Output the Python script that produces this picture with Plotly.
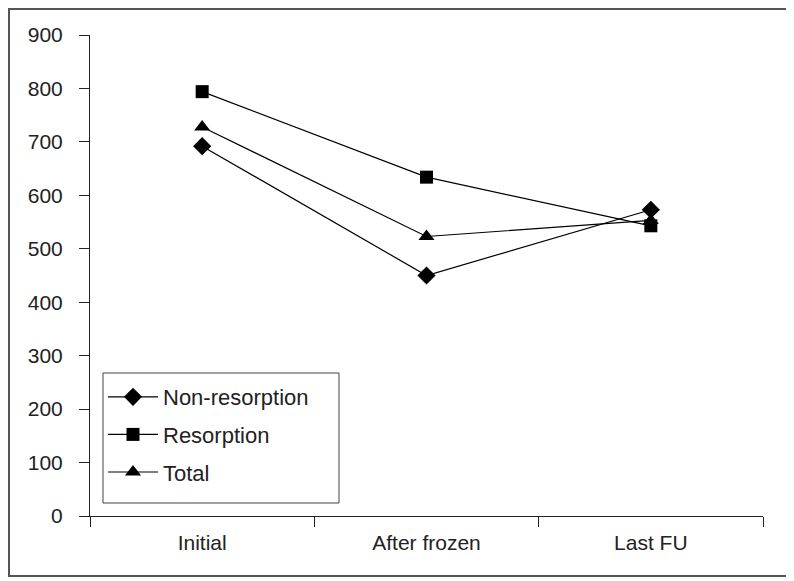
import plotly.graph_objects as go

categories = ["Initial", "After frozen", "Last FU"]
non_resorption = [692, 450, 573]
resorption = [794, 634, 543]
total = [728, 523, 553]

FONT = "Liberation Sans"

fig = go.Figure()
series = [
    ("Non-resorption", non_resorption, "diamond", 14),
    ("Resorption", resorption, "square", 13),
    ("Total", total, "triangle-up", 14),
]
for i, (name, vals, sym, sz) in enumerate(series):
    fig.add_trace(go.Scatter(
        x=categories, y=vals, name=name, mode="lines+markers",
        line=dict(color="black", width=1.2),
        marker=dict(symbol=sym, size=sz, color="black"),
        legendgroup=f"g{i}",
    ))

# page has an 8px body margin: figure sits at (8, 8)
W, H = 786, 573
L, R, T, B = 82, 31, 27, 65
pw, ph = W - L - R, H - T - B


def px(x):
    return (x - 8 - L) / pw


def py(y):
    return (T + ph - (y - 8)) / ph


fig.update_layout(
    width=W, height=H,
    margin=dict(l=L, r=R, t=T, b=B),
    paper_bgcolor="white", plot_bgcolor="white",
    font=dict(family=FONT, size=21, color="#222"),
    showlegend=True,
    legend=dict(
        x=px(103), y=py(376), xanchor="left", yanchor="top",
        borderwidth=0, bgcolor="rgba(0,0,0,0)",
        font=dict(family=FONT, size=22, color="#222"),
        tracegroupgap=6, itemwidth=50,
    ),
    xaxis=dict(
        type="category", range=[-0.5, 2.5], tickson="boundaries",
        ticks="outside", ticklen=10, tickcolor="#222", showline=True,
        linecolor="#222", linewidth=1, showgrid=False, zeroline=False,
        ticklabelstandoff=8,
        tickfont=dict(family=FONT, size=21, color="#222"),
    ),
    yaxis=dict(
        range=[0, 900], dtick=100, ticks="outside", ticklen=10,
        tickcolor="#222", showline=True, linecolor="#222", linewidth=1,
        showgrid=False, zeroline=False, ticklabelstandoff=12,
        tickfont=dict(family=FONT, size=21, color="#222"),
    ),
    shapes=[
        dict(
            type="rect", xref="paper", yref="paper",
            x0=px(9), x1=px(788), y0=py(576), y1=py(9),
            line=dict(color="#555", width=2),
        ),
        dict(
            type="rect", xref="paper", yref="paper",
            x0=px(103), x1=px(339), y0=py(503), y1=py(373),
            line=dict(color="#444", width=1), fillcolor="white", layer="below",
        ),
    ],
)

fig.write_html("out.html")
